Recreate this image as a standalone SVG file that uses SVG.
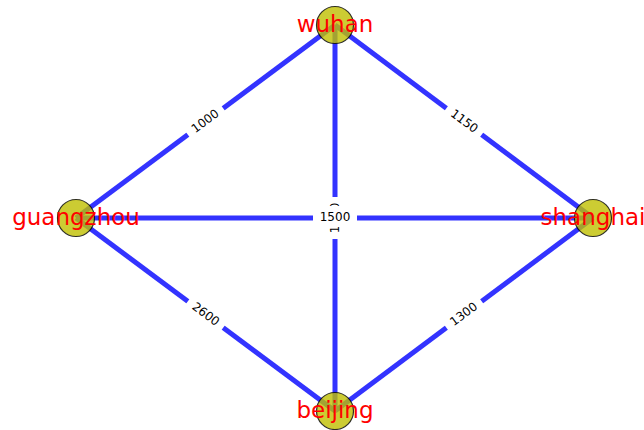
<svg xmlns="http://www.w3.org/2000/svg" width="644" height="430" viewBox="0 0 644 430">
<style>
.edge{stroke:#3333ff;stroke-width:5;fill:none}
.lbox{fill:#ffffff;stroke:none}
.ltxt{font-family:"DejaVu Sans",sans-serif;font-size:12px;fill:#000000;text-anchor:middle;dominant-baseline:central}
.node{fill:#bfbf00;fill-opacity:0.8;stroke:#000000;stroke-opacity:0.8;stroke-width:1.2}
.ntxt{font-family:"DejaVu Sans",sans-serif;font-size:23px;fill:#ff0000;text-anchor:middle;dominant-baseline:central}
</style>
<rect width="644" height="430" fill="#ffffff"/>
<g id="connectors">
<line class="edge" x1="76" y1="218" x2="335" y2="25"/>
<line class="edge" x1="335" y1="25" x2="593" y2="218"/>
<line class="edge" x1="76" y1="218" x2="335" y2="411"/>
<line class="edge" x1="335" y1="411" x2="593" y2="218"/>
<line class="edge" x1="76" y1="218" x2="593" y2="218"/>
<line class="edge" x1="335" y1="25" x2="335" y2="411"/>
</g>
<g id="edge-labels">
<g transform="translate(205.5,121.5) rotate(-36.7)"><rect class="lbox" x="-22" y="-10" width="44" height="20"/><text class="ltxt" x="0" y="-0.5">1000</text></g>
<g transform="translate(464,121.5) rotate(36.7)"><rect class="lbox" x="-22" y="-10" width="44" height="20"/><text class="ltxt" x="0" y="-0.5">1150</text></g>
<g transform="translate(205.5,314.5) rotate(36.7)"><rect class="lbox" x="-22" y="-10" width="44" height="20"/><text class="ltxt" x="0" y="-0.5">2600</text></g>
<g transform="translate(464,314.5) rotate(-36.7)"><rect class="lbox" x="-22" y="-10" width="44" height="20"/><text class="ltxt" x="0" y="-0.5">1300</text></g>
<g transform="translate(335,218) rotate(-90)"><rect class="lbox" x="-21" y="-10" width="42" height="20"/><text class="ltxt" x="0" y="0">1100</text></g>
<g transform="translate(335,216.5)"><rect class="lbox" x="-22" y="-10.5" width="44" height="21"/><text class="ltxt" x="0" y="0">1500</text></g>
</g>
<g id="node-wuhan"><circle class="node" cx="335" cy="25" r="18.5"/><text class="ntxt" x="335" y="24">wuhan</text></g>
<g id="node-guangzhou"><circle class="node" cx="76" cy="218" r="18.5"/><text class="ntxt" x="76" y="217">guangzhou</text></g>
<g id="node-shanghai"><circle class="node" cx="593" cy="218" r="18.5"/><text class="ntxt" x="593" y="217">shanghai</text></g>
<g id="node-beijing"><circle class="node" cx="335" cy="411" r="18.5"/><text class="ntxt" x="335" y="410">beijing</text></g>
</svg>
